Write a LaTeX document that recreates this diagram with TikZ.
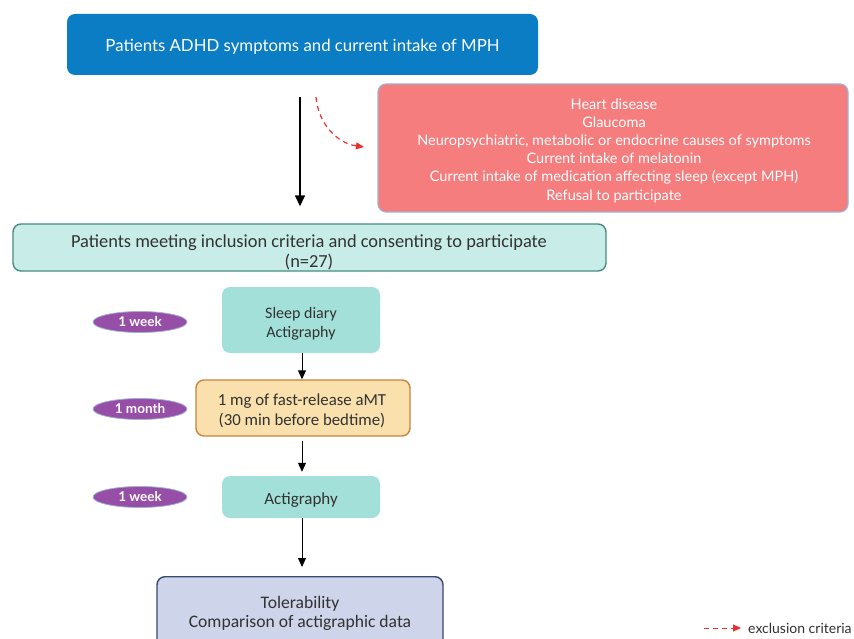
\documentclass[tikz,border=0pt]{standalone}
\usepackage{fontspec}
\setmainfont{Carlito}
\newfontfamily\latofont{Lato}
\usetikzlibrary{arrows.meta,shapes.geometric}
\definecolor{topblue}{RGB}{10,125,196}
\definecolor{exred}{RGB}{245,125,125}
\definecolor{exborder}{RGB}{160,178,212}
\definecolor{incfill}{RGB}{200,237,232}
\definecolor{incborder}{RGB}{70,140,130}
\definecolor{tealfill}{RGB}{163,224,218}
\definecolor{amtfill}{RGB}{250,224,172}
\definecolor{amtborder}{RGB}{200,132,58}
\definecolor{tolfill}{RGB}{206,212,234}
\definecolor{tolborder}{RGB}{58,72,112}
\definecolor{ellfill}{RGB}{150,78,166}
\definecolor{dashred}{RGB}{232,48,48}
\definecolor{txtgrey}{RGB}{50,50,50}
\tikzset{
  x=1pt,y=-1pt,
  box/.style={rectangle,rounded corners=8pt,inner sep=0pt},
  txt/.style={align=center,inner sep=0pt,text=txtgrey},
  period/.style={ellipse,fill=ellfill,draw=exborder,line width=0.8pt,minimum width=94pt,minimum height=21pt,inner sep=0pt,text=white,font=\latofont\bfseries\fontsize{13.5}{15}\selectfont},
  flow/.style={-{Triangle[length=9pt,width=8pt]},line width=1pt,black},
  bigflow/.style={-{Triangle[length=11pt,width=10pt]},line width=1.6pt,black},
  excl/.style={-{Triangle[length=8pt,width=7pt]},dash pattern=on 5pt off 4pt,line width=1.2pt,dashred}
}
\begin{document}
\begin{tikzpicture}
\useasboundingbox (0,0) rectangle (854,639);
\fill[white] (0,0) rectangle (854,639);
% top box
\node[box,fill=topblue,minimum width=471pt,minimum height=61pt] (top) at (302.5,44.5) {};
\node[txt,text=white,font=\latofont\fontsize{16.8}{20}\selectfont] (toptxt) at (302.5,46.5) {Patients ADHD symptoms and current intake of MPH};
% exclusion box
\node[box,fill=exred,draw=exborder,line width=1.2pt,minimum width=470pt,minimum height=128pt] (ex) at (613,148) {};
\node[txt,text=white,font=\latofont\fontsize{14.5}{18.2}\selectfont] (extxt) at (614,150.5) {Heart disease\\Glaucoma\\Neuropsychiatric, metabolic or endocrine causes of symptoms\\Current intake of melatonin\\Current intake of medication affecting sleep (except MPH)\\Refusal to participate};
% inclusion box
\node[box,fill=incfill,draw=incborder,line width=1.4pt,minimum width=593pt,minimum height=47pt] (inc) at (309.5,247.5) {};
\node[txt,font=\fontsize{18.4}{20}\selectfont] (inctxt) at (309,252) {Patients meeting inclusion criteria and consenting to participate\\(n=27)};
% sleep diary
\node[box,fill=tealfill,minimum width=158pt,minimum height=66pt] (sd) at (301,320) {};
\node[txt,font=\fontsize{16}{19}\selectfont] (sdtxt) at (301,324) {Sleep diary\\Actigraphy};
% amt
\node[box,fill=amtfill,draw=amtborder,line width=1.4pt,minimum width=214pt,minimum height=56pt] (amt) at (303,408) {};
\node[txt,font=\fontsize{16.8}{20}\selectfont] (amttxt) at (302,411) {1 mg of fast-release aMT\\(30 min before bedtime)};
% actigraphy
\node[box,fill=tealfill,minimum width=158pt,minimum height=42pt] (act) at (301,497) {};
\node[txt,font=\fontsize{17}{20}\selectfont] (acttxt) at (301,500) {Actigraphy};
% tolerability
\node[box,fill=tolfill,draw=tolborder,line width=1.4pt,minimum width=286pt,minimum height=72pt,anchor=north] (tol) at (300,576) {};
\node[txt,font=\fontsize{17.6}{19}\selectfont] (toltxt) at (300,613.5) {Tolerability\\Comparison of actigraphic data};
% periods
\node[period] (p1) at (140,322) {1 week};
\node[period] (p2) at (140,409) {1 month};
\node[period] (p3) at (140,497) {1 week};
% arrows
\draw[bigflow,shorten <=22pt,shorten >=17pt] (top.south -| 300,0) -- (inc.north -| 300,0);
\coordinate (exs) at (316,97);
\coordinate (exe) at (364,147);
\draw[excl] (exs) to[out=-85,in=172] (exe);
\draw[flow] (sd.south -| 302,0) -- (amt.north -| 302,0);
\draw[flow,shorten <=4pt,shorten >=4pt] (amt.south -| 302,0) -- (act.north -| 302,0);
\draw[flow,shorten >=9pt] (act.south -| 302,0) -- (tol.north -| 302,0);
% legend
\coordinate (lg1) at (704,628);
\coordinate (lg2) at (741,628);
\draw[excl,line width=1pt] (lg1) -- (lg2);
\node[anchor=west,inner sep=0pt,text=txtgrey,font=\latofont\fontsize{14}{16}\selectfont] (lgt) at (748,628) {exclusion criteria};
\end{tikzpicture}
\end{document}
